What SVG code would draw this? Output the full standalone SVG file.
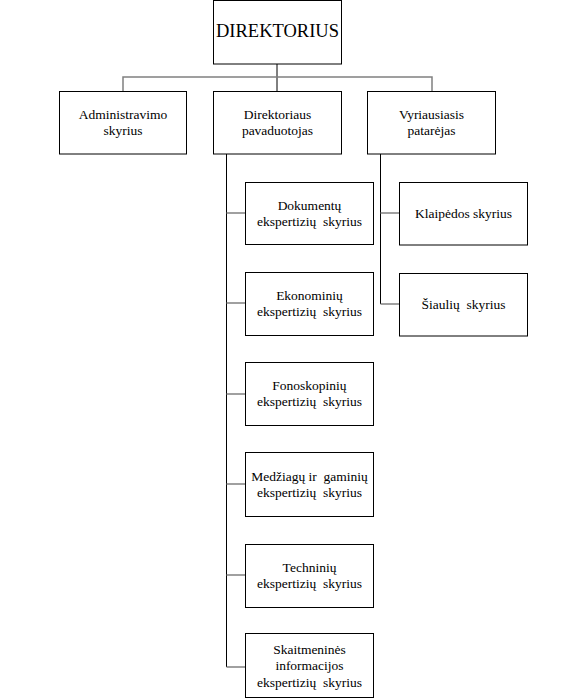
<svg xmlns="http://www.w3.org/2000/svg" width="570" height="699" viewBox="0 0 570 699">
<style>
rect.box{fill:#fff;stroke:#000;stroke-width:1}
text{font-family:'Liberation Serif',Tinos,'Times New Roman',Times,'DejaVu Serif',serif;font-size:13.5px;fill:#000;text-anchor:middle}
.g{stroke:#808080;stroke-width:1.5;fill:none}
.k{stroke:#000;stroke-width:1;fill:none}
</style>
<rect width="570" height="699" fill="#fff"/>
<g id="connectors">
<line class="k" x1="277" y1="64" x2="277" y2="91"/>
<polyline class="g" points="123,91 123,77 432,77 432,91"/>
<line class="k" x1="226.5" y1="154" x2="226.5" y2="667"/>
<line class="g" x1="226.5" y1="213" x2="245" y2="213"/>
<line class="g" x1="226.5" y1="303" x2="245" y2="303"/>
<line class="g" x1="226.5" y1="394" x2="245" y2="394"/>
<line class="g" x1="226.5" y1="484" x2="245" y2="484"/>
<line class="g" x1="226.5" y1="575" x2="245" y2="575"/>
<line class="g" x1="226.5" y1="667" x2="245" y2="667"/>
<line class="k" x1="380.5" y1="154" x2="380.5" y2="304"/>
<line class="g" x1="380.5" y1="213" x2="399" y2="213"/>
<line class="g" x1="380.5" y1="304" x2="399" y2="304"/>
</g>
<g id="direktorius">
<rect class="box" x="213.5" y="0.5" width="128" height="63.5"/>
<text x="277.5" y="37" font-family="Liberation Serif, serif" style="font-size:18.5px">DIREKTORIUS</text>
</g>
<g id="administravimo">
<rect class="box" x="59.5" y="91.5" width="127" height="62.5"/>
<text x="123" y="119">Administravimo</text>
<text x="123" y="135">skyrius</text>
</g>
<g id="pavaduotojas">
<rect class="box" x="213.5" y="91.5" width="128" height="62.5"/>
<text x="277.5" y="119">Direktoriaus</text>
<text x="277.5" y="135">pavaduotojas</text>
</g>
<g id="patarejas">
<rect class="box" x="367.5" y="91.5" width="128" height="62.5"/>
<text x="431.5" y="119">Vyriausiasis</text>
<text x="431.5" y="135">patarėjas</text>
</g>
<g id="dokumentu">
<rect class="box" x="245.5" y="182.5" width="128" height="62"/>
<text x="309.5" y="210">Dokumentų</text>
<text x="309.5" y="226" xml:space="preserve">ekspertizių  skyrius</text>
</g>
<g id="ekonominiu">
<rect class="box" x="245.5" y="272.5" width="128" height="63"/>
<text x="309.5" y="300">Ekonominių</text>
<text x="309.5" y="316" xml:space="preserve">ekspertizių  skyrius</text>
</g>
<g id="fonoskopiniu">
<rect class="box" x="245.5" y="362.5" width="128" height="63"/>
<text x="309.5" y="390">Fonoskopinių</text>
<text x="309.5" y="406" xml:space="preserve">ekspertizių  skyrius</text>
</g>
<g id="medziagu">
<rect class="box" x="245.5" y="452.5" width="128" height="64"/>
<text x="309.5" y="481" xml:space="preserve">Medžiagų ir  gaminių</text>
<text x="309.5" y="497" xml:space="preserve">ekspertizių  skyrius</text>
</g>
<g id="techniniu">
<rect class="box" x="245.5" y="544.5" width="128" height="63"/>
<text x="309.5" y="572">Techninių</text>
<text x="309.5" y="588" xml:space="preserve">ekspertizių  skyrius</text>
</g>
<g id="skaitmenines">
<rect class="box" x="245.5" y="633.5" width="128" height="64"/>
<text x="309.5" y="654">Skaitmeninės</text>
<text x="309.5" y="670">informacijos</text>
<text x="309.5" y="687" xml:space="preserve">ekspertizių  skyrius</text>
</g>
<g id="klaipedos">
<rect class="box" x="399.5" y="182.5" width="128" height="62.5"/>
<text x="463.5" y="218">Klaipėdos skyrius</text>
</g>
<g id="siauliu">
<rect class="box" x="399.5" y="273.5" width="128" height="62.5"/>
<text x="463.5" y="309" xml:space="preserve">Šiaulių  skyrius</text>
</g>
</svg>
